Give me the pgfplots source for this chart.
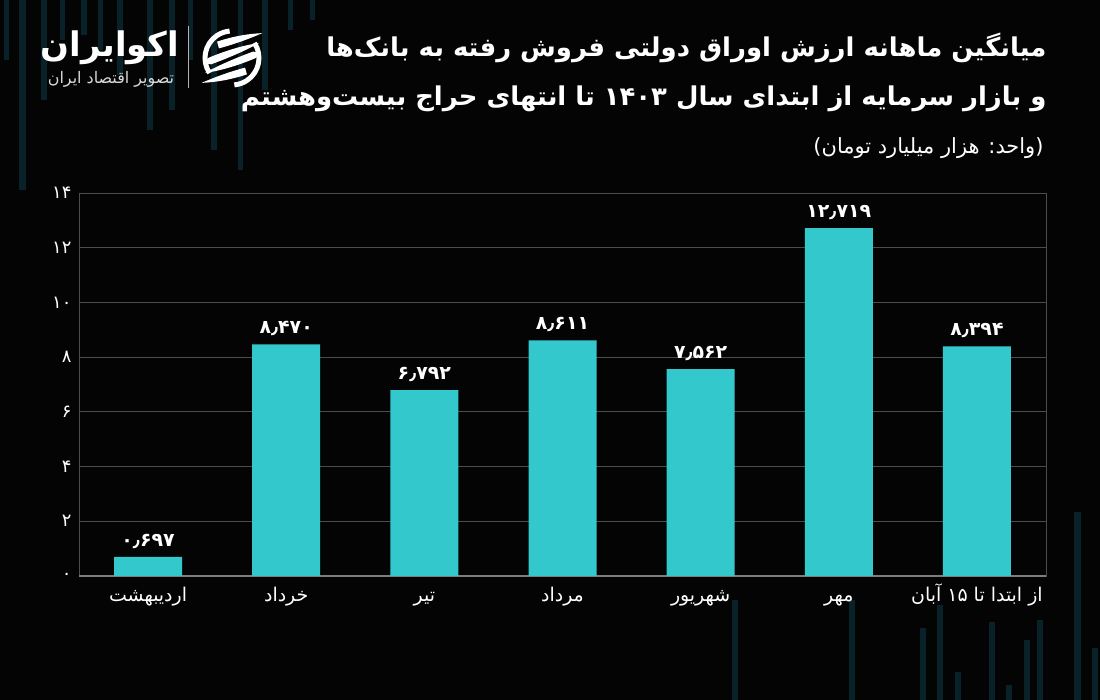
\documentclass[border=0pt]{standalone}
\usepackage{pgfplots}
\pgfplotsset{compat=1.18}
\usepackage{fontspec}
\setmainfont{DejaVu Sans}
\newfontfamily\fa[Script=Arabic]{DejaVu Sans}
\TeXXeTstate=1
\definecolor{barc}{RGB}{51,201,204}
\definecolor{gridc}{RGB}{76,76,76}
\definecolor{axc}{RGB}{125,125,125}
\definecolor{bg}{RGB}{4,4,4}
\definecolor{strp}{RGB}{9,34,42}
\begin{document}
\begin{tikzpicture}[x=1bp,y=1bp]
\fill[bg] (0,0) rectangle (1100,700);
% decorative stripes (top-left)
\foreach \xx/\ww/\ll in {6/5/60,22/7/190,44/6/100,62/5/40,84/6/35,100/5/50,120/6/75,150/6/130,172/6/110,190/5/60,214/6/150,240/5/170,265/6/90,290/5/30,312/5/20}{
  \fill[strp] (\xx-\ww/2,700) rectangle (\xx+\ww/2,700-\ll);
}
% decorative stripes (bottom)
\foreach \xx/\ww/\ll in {735/6/100,852/6/100,923/6/72,940/6/95,958/6/28,992/6/78,1009/6/15,1027/6/60,1040/6/80,1077/7/188,1095/6/52}{
  \fill[strp] (\xx-\ww/2,0) rectangle (\xx+\ww/2,\ll);
}
% logo
\node[font=\fa\bfseries\fontsize{34}{38}\selectfont, text=white] at (110,652) {اکوایران};
\node[font=\fa\fontsize{16}{18}\selectfont, text=white!85!black] at (111,621) {\beginR تصویر اقتصاد ایران\endR};
\draw[white!70!black, line width=1pt] (188,612) -- (188,674);
\begin{scope}[shift={(232,642)}]
  \foreach \r in {0,180}{
    \begin{scope}[rotate=\r]
      \draw[white, line width=5pt] (214:27) arc (214:95:27);
      \fill[white, shift={(-14,13)}, rotate=15] (0,3.5) .. controls (18,4.5) and (32,3) .. (46,0) .. controls (32,-2) and (18,-3.5) .. (0,-3.5) -- cycle;
      \fill[white, shift={(-22,-3)}, rotate=20] (0,3.5) .. controls (20,4.5) and (40,3) .. (52,0) .. controls (40,-2) and (20,-3.5) .. (0,-3.5) arc (270:90:3.5) -- cycle;
    \end{scope}}
\end{scope}
% titles
\node[anchor=east, font=\fa\bfseries\fontsize{26}{30}\selectfont, text=white] at (1050,652) {\beginR میانگین ماهانه ارزش اوراق دولتی فروش رفته به بانک‌ها\endR};
\node[anchor=east, font=\fa\bfseries\fontsize{26}{30}\selectfont, text=white] at (1050,601) {\beginR و بازار سرمایه از ابتدای سال ۱۴۰۳ تا انتهای حراج بیست‌وهشتم\endR};
\node[anchor=east, font=\fa\fontsize{21}{25}\selectfont, text=white] at (1047,552) {\beginR (واحد: هزار میلیارد تومان)\endR};
\begin{axis}[
  at={(79bp,124bp)}, anchor=south west,
  width=967bp, height=383bp, scale only axis,
  xmin=-0.5, xmax=6.5, ymin=0, ymax=14,
  ybar, bar width=68bp,
  axis line style={draw=gridc, line width=0.8pt},
  ymajorgrids, grid style={draw=gridc, line width=0.8pt},
  xtick={0,...,6},
  xticklabels={اردیبهشت,خرداد,تیر,مرداد,شهریور,مهر,{\beginR از ابتدا تا ۱۵ آبان\endR}},
  ytick={0,2,...,14},
  yticklabels={۰,۲,۴,۶,۸,۱۰,۱۲,۱۴},
  extra y ticks={0}, extra y tick labels={},
  extra y tick style={grid style={draw=axc, line width=2pt}},
  major tick style={draw=none},
  xticklabel style={font=\fa\fontsize{19}{22}\selectfont, text=white, text height=16bp, text depth=5bp, anchor=north, yshift=-2bp},
  yticklabel style={font=\fa\fontsize{18}{21}\selectfont, text=white, xshift=-4bp},
  nodes near coords={\pgfplotspointmeta},
  point meta=explicit symbolic,
  nodes near coords style={font=\fa\bfseries\fontsize{19}{22}\selectfont, text=white, yshift=5bp},
]
\addplot[fill=barc, draw=none] coordinates {
  (0,0.697) [۰٫۶۹۷]
  (1,8.470) [۸٫۴۷۰]
  (2,6.792) [۶٫۷۹۲]
  (3,8.611) [۸٫۶۱۱]
  (4,7.562) [۷٫۵۶۲]
  (5,12.719) [۱۲٫۷۱۹]
  (6,8.394) [۸٫۳۹۴]
};
\end{axis}
\end{tikzpicture}
\end{document}
